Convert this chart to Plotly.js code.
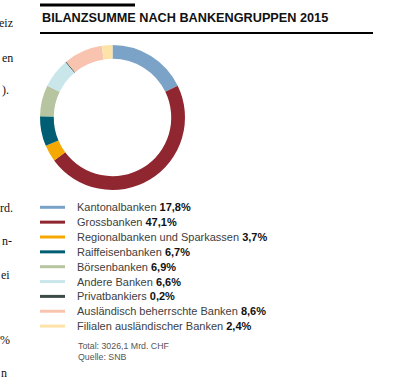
<!DOCTYPE html>
<html>
<head>
<meta charset="utf-8">
<script src="https://cdn.plot.ly/plotly-3.0.1.min.js"></script>
<style>html,body{margin:0;padding:0;background:#fff;}#chart{width:394px;height:385px;}</style>
</head>
<body>
<div id="chart"></div>
<script>
const categories = ["Kantonalbanken","Grossbanken","Regionalbanken und Sparkassen","Raiffeisenbanken","Börsenbanken","Andere Banken","Privatbankiers","Ausländisch beherrschte Banken","Filialen ausländischer Banken"];
const shares = [17.8, 47.1, 3.7, 6.7, 6.9, 6.6, 0.2, 8.6, 2.4];
const colors = ["#7ba3c7","#8f2630","#f5a800","#005e74","#b6c4a0","#c9e6ea","#3d4b49","#f8c4af","#fde3a8"];
const chartTitle = "BILANZSUMME NACH BANKENGRUPPEN 2015";
const notes = ["Total: 3026,1 Mrd. CHF", "Quelle: SNB"];
const sideText = [["eiz",14,23],["en",14,58],[").",10,90],["rd.",14,208],["n-",13,241],["ei",11,275],["%",11,340],["n",8,373]];

const W = 394, H = 385;
const px = x => x / W;
const py = y => 1 - y / H;

const pie = {
  type: "pie",
  values: shares,
  labels: categories,
  marker: {colors: colors, line: {width: 0}},
  sort: false,
  direction: "clockwise",
  rotation: 0,
  hole: 0.81,
  textinfo: "none",
  hoverinfo: "label+percent",
  showlegend: false,
  domain: {x: [px(40), px(185)], y: [py(190), py(45)]}
};

const shapes = [
  {type:"rect", xref:"paper", yref:"paper", x0:px(40), x1:px(135), y0:py(6.5), y1:py(3.5), fillcolor:"#000", line:{width:0}},
  {type:"rect", xref:"paper", yref:"paper", x0:px(40), x1:px(373), y0:py(34), y1:py(32), fillcolor:"#000", line:{width:0}}
];
const annotations = [
  {text:"<b>"+chartTitle+"</b>", xref:"paper", yref:"paper", x:px(39.5), y:py(18), xanchor:"left", yanchor:"middle", showarrow:false, font:{family:"Liberation Sans, Arial", size:12.7, color:"#111"}}
];
const rowY0 = 207.3, rowStep = 14.85;
categories.forEach((c, i) => {
  const y = rowY0 + i * rowStep;
  shapes.push({type:"line", xref:"paper", yref:"paper", x0:px(40), x1:px(65), y0:py(y), y1:py(y), line:{color:colors[i], width:3}});
  const pct = shares[i].toFixed(1).replace(".", ",") + "%";
  annotations.push({text: c + " <b><span style='color:#111'>" + pct + "</span></b>", xref:"paper", yref:"paper", x:px(74.5), y:py(y), xanchor:"left", yanchor:"middle", showarrow:false, font:{family:"Liberation Sans, Arial", size:11, color:"#404040"}});
});
notes.forEach((n, i) => {
  annotations.push({text:n, xref:"paper", yref:"paper", x:px(75.5), y:py(346 + i*11.3), xanchor:"left", yanchor:"middle", showarrow:false, font:{family:"Liberation Sans, Arial", size:8.8, color:"#555"}});
});
sideText.forEach(s => {
  annotations.push({text:s[0], xref:"paper", yref:"paper", x:px(s[1]), y:py(s[2]), xanchor:"right", yanchor:"middle", showarrow:false, borderpad:0, font:{family:"Liberation Serif, Times New Roman", size:12, color:"#111"}});
});

const layout = {
  width: W, height: H,
  margin: {l:0, r:0, t:0, b:0},
  paper_bgcolor: "#fff",
  plot_bgcolor: "#fff",
  shapes: shapes,
  annotations: annotations,
  showlegend: false
};
Plotly.newPlot("chart", [pie], layout, {displayModeBar:false, staticPlot:true});
</script>
</body>
</html>
